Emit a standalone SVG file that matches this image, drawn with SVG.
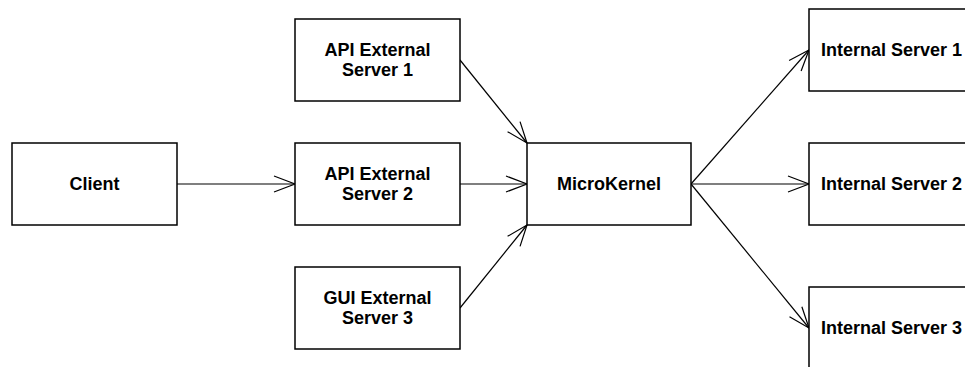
<svg xmlns="http://www.w3.org/2000/svg" width="965" height="367" viewBox="0 0 965 367">
<style>
.box{fill:#fff;stroke:#000;stroke-width:1.5}
.lbl{font-family:"Liberation Sans",Arial,sans-serif;font-weight:bold;font-size:18px;text-anchor:middle;fill:#000}
.edge{fill:none;stroke:#000;stroke-width:1.2}
</style>
<defs>
<marker id="arr" markerUnits="userSpaceOnUse" markerWidth="30" markerHeight="24" viewBox="-24 -12 30 24" refX="0" refY="0" orient="auto">
<path d="M-21,-8 L0,0 L-21,8" fill="none" stroke="#000" stroke-width="1.2"/>
</marker>
</defs>
<rect width="965" height="367" fill="#fff"/>
<g id="connectors">
<line class="edge" x1="177" y1="184" x2="295" y2="184" marker-end="url(#arr)"/>
<line class="edge" x1="460" y1="60" x2="527" y2="143" marker-end="url(#arr)"/>
<line class="edge" x1="460" y1="184" x2="527" y2="184" marker-end="url(#arr)"/>
<line class="edge" x1="460" y1="308" x2="527" y2="225" marker-end="url(#arr)"/>
<line class="edge" x1="691" y1="184" x2="809" y2="50" marker-end="url(#arr)"/>
<line class="edge" x1="691" y1="184" x2="809" y2="184" marker-end="url(#arr)"/>
<line class="edge" x1="691" y1="184" x2="809" y2="328" marker-end="url(#arr)"/>
</g>
<g id="client"><rect class="box" x="12" y="143" width="165" height="82"/><text class="lbl" x="94.5" y="190">Client</text></g>
<g id="api1"><rect class="box" x="295" y="19" width="165" height="82"/><text class="lbl" x="377.5" y="56">API External</text><text class="lbl" x="377.5" y="76">Server 1</text></g>
<g id="api2"><rect class="box" x="295" y="143" width="165" height="82"/><text class="lbl" x="377.5" y="180">API External</text><text class="lbl" x="377.5" y="200">Server 2</text></g>
<g id="gui3"><rect class="box" x="295" y="267" width="165" height="82"/><text class="lbl" x="377.5" y="304">GUI External</text><text class="lbl" x="377.5" y="324">Server 3</text></g>
<g id="microkernel"><rect class="box" x="527" y="143" width="164" height="82"/><text class="lbl" x="609" y="190">MicroKernel</text></g>
<g id="internal1"><rect class="box" x="809" y="9" width="165" height="82"/><text class="lbl" x="891.5" y="56">Internal Server 1</text></g>
<g id="internal2"><rect class="box" x="809" y="143" width="165" height="82"/><text class="lbl" x="891.5" y="190">Internal Server 2</text></g>
<g id="internal3"><rect class="box" x="809" y="287" width="165" height="82"/><text class="lbl" x="891.5" y="334">Internal Server 3</text></g>
</svg>
